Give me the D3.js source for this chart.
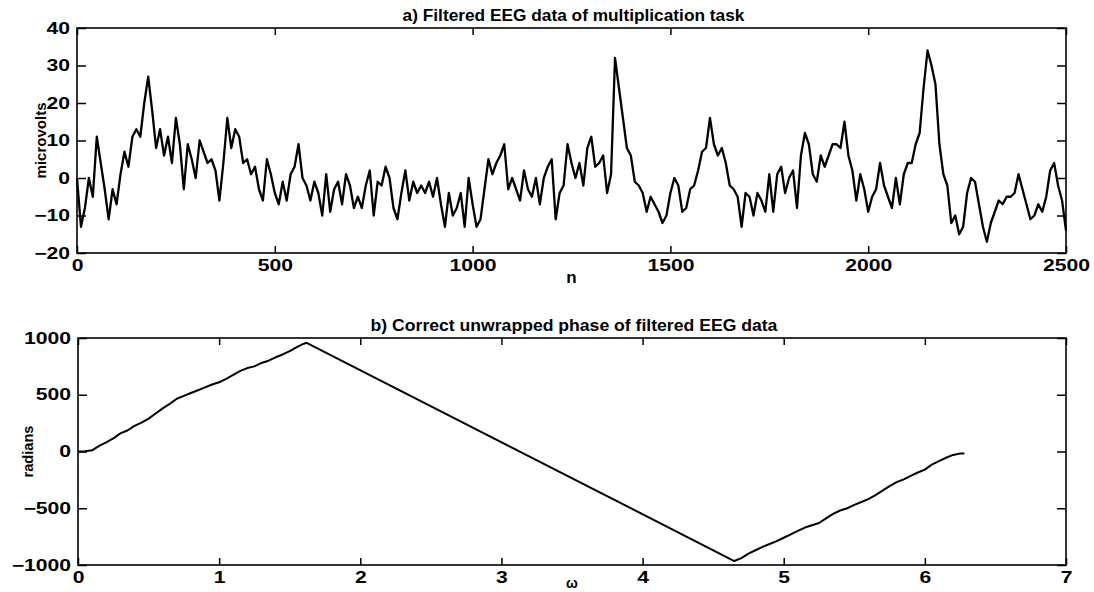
<!DOCTYPE html>
<html>
<head>
<meta charset="utf-8">
<script src="https://cdn.jsdelivr.net/npm/d3@7"></script>
<style>
body { margin: 0; background: white; }
</style>
</head>
<body>
<div id="chart"></div>
<script>
// a) filtered EEG, one value every eegStep samples (read off the picture)
var eegStep = 10;
var eegValues = [
    0, -13, -8, 0, -5, 11, 4, -3, -11, -3,
    -7, 1, 7, 3, 11, 13, 11, 20, 27, 18,
    8, 13, 6, 11, 4, 16, 9, -3, 9, 5,
    0, 10, 7, 4, 5, 2, -6, 4, 16, 8,
    13, 11, 4, 5, 1, 3, -3, -6, 5, 1,
    -4, -7, -1, -6, 1, 3, 9, 0, -2, -6,
    -1, -4, -10, 1,
    -9, -3, -1, -7, 1, -2, -8, -5, -8, -2,
    2, -10, -1, -2, 3, 0, -8, -11, -4, 2,
    -6, -1, -4, -2, -4, -1, -5, 0, -7, -13,
    -4, -10, -8, -4, -13, 0, -7, -13, -11, -3,
    5, 1, 4, 6, 9, -3, 0, -3, -6, 2,
    -3, -5, 0, -7, 0, 3, 5, -11, -4, -2,
    9, 4,
    0, 4, -2, 8, 11, 3, 4, 6, -4, 1,
    32, 24, 16, 8, 6, -1, -2, -4, -9, -5,
    -7, -9, -12, -10, -4, 0, -2, -9, -8, -3,
    -2, 2, 7, 8, 16, 9, 6, 8, 4, -2,
    -3, -5, -13, -4, -5, -10, -4, -6, -9, 1,
    -9, 1, 3, -4, 0, 2, -8, 6, 12, 9,
    1, -1, 6,
    3, 6, 9, 9, 8, 15, 6, 2, -6, 1,
    -3, -9, -5, -3, 4, -2, -5, -8, 0, -7,
    1, 4, 4, 9, 12, 24, 34, 30, 25, 9,
    1, -2, -12, -10, -15, -13, -4, 0, -1, -7,
    -13, -17, -12, -9, -6, -7, -5, -5, -4, 1,
    -3, -7, -11, -10, -7, -9, -5, 2, 4, -2,
    -6, -14
];
var eegTicksX = [0, 500, 1000, 1500, 2000, 2500];
var eegTicksY = [-20, -10, 0, 10, 20, 30, 40];

// b) unwrapped phase
var phaseOmega = [
    0, 0.05, 0.1, 0.15, 0.2, 0.25, 0.3, 0.35, 0.4, 0.45,
    0.5, 0.55, 0.6, 0.65, 0.7, 0.75, 0.8, 0.85, 0.9, 0.95,
    1.0, 1.05, 1.1, 1.15, 1.2, 1.25, 1.3, 1.35, 1.4, 1.45,
    1.5, 1.55, 1.6, 1.62,
    4.65, 4.7, 4.75, 4.8, 4.85, 4.9, 4.95, 5.0, 5.05, 5.1,
    5.15, 5.2, 5.25, 5.3, 5.35, 5.4, 5.45, 5.5, 5.55, 5.6,
    5.65, 5.7, 5.75, 5.8, 5.85, 5.9, 5.95, 6.0, 6.05, 6.1,
    6.15, 6.2, 6.25, 6.28
];
var phaseRadians = [
    0, 3, 10, 50, 80, 115, 160, 185, 225, 255,
    290, 335, 380, 420, 465, 490, 515, 540, 565, 590,
    610, 640, 675, 710, 735, 750, 780, 800, 830, 855,
    885, 920, 950, 958,
    -965, -940, -900, -870, -840, -815, -790, -760, -730, -700,
    -670, -650, -630, -590, -550, -520, -500, -470, -445, -420,
    -385, -345, -305, -270, -245, -215, -185, -160, -115, -85,
    -55, -30, -18, -18
];
var phaseTicksX = [0, 1, 2, 3, 4, 5, 6, 7];
var phaseTicksY = [-1000, -500, 0, 500, 1000];

var svg = d3.select("#chart")
    .append("svg")
    .attr("width", 1094)
    .attr("height", 592);

var font = "'Liberation Sans', Arial, Helvetica, sans-serif";
var digitStretch = 1.32;
var fmt = d3.format("d");

// scanned figure has wide glyphs, so stretch text horizontally
function widen(sel, k) {
    sel.each(function() {
        let w = this.getComputedTextLength();
        d3.select(this)
            .attr("textLength", w * k)
            .attr("lengthAdjust", "spacingAndGlyphs");
    });
}

function drawPanel(p) {
    let x = d3.scaleLinear().domain(p.xDomain).range([p.left, p.right]);
    let y = d3.scaleLinear().domain(p.yDomain).range([p.bottom, p.top]);
    let g = svg.append("g");

    let left = g.append("g")
        .attr("transform", "translate(" + p.left + ",0)")
        .call(d3.axisLeft(y).tickValues(p.yTicks).tickFormat(fmt)
            .tickSize(-9).tickPadding(7).tickSizeOuter(0));
    let bottom = g.append("g")
        .attr("transform", "translate(0," + p.bottom + ")")
        .call(d3.axisBottom(x).tickValues(p.xTicks).tickFormat(fmt)
            .tickSize(-7).tickPadding(7).tickSizeOuter(0));
    g.append("g")
        .attr("transform", "translate(" + p.right + ",0)")
        .call(d3.axisRight(y).tickValues(p.yTicks).tickSize(-9).tickFormat("").tickSizeOuter(0));
    g.append("g")
        .attr("transform", "translate(0," + p.top + ")")
        .call(d3.axisTop(x).tickValues(p.xTicks).tickSize(-7).tickFormat("").tickSizeOuter(0));

    g.selectAll(".domain").remove();
    g.selectAll(".tick line").attr("stroke", "black").attr("stroke-width", 1.5);
    g.selectAll(".tick text")
        .attr("font-family", font)
        .attr("font-weight", "bold")
        .attr("font-size", "16px")
        .attr("fill", "black");
    widen(left.selectAll(".tick text"), digitStretch);
    widen(bottom.selectAll(".tick text"), digitStretch);

    g.append("rect")
        .attr("x", p.left)
        .attr("y", p.top)
        .attr("width", p.right - p.left)
        .attr("height", p.bottom - p.top)
        .attr("fill", "none")
        .attr("stroke", "black")
        .attr("stroke-width", 1.6);

    g.append("path")
        .datum(p.points)
        .attr("fill", "none")
        .attr("stroke", "black")
        .attr("stroke-width", p.lineWidth)
        .attr("stroke-linejoin", "round")
        .attr("d", d3.line()
            .x(d => x(d[0]))
            .y(d => y(d[1])));

    let title = g.append("text")
        .attr("x", (p.left + p.right) / 2 + 2)
        .attr("y", p.top - 7)
        .attr("text-anchor", "middle")
        .attr("font-family", font)
        .attr("font-weight", "bold")
        .attr("font-size", "16px")
        .text(p.title);
    widen(title, p.titleStretch);

    g.append("text")
        .attr("x", (p.left + p.right) / 2)
        .attr("y", p.xLabelY)
        .attr("text-anchor", "middle")
        .attr("font-family", font)
        .attr("font-weight", "bold")
        .attr("font-size", p.xLabelSize)
        .text(p.xLabel);

    g.append("text")
        .attr("transform", "translate(" + p.yLabelX + "," + (p.top + p.bottom) / 2 + ") rotate(-90)")
        .attr("text-anchor", "middle")
        .attr("font-family", font)
        .attr("font-weight", "bold")
        .attr("font-size", "15px")
        .attr("textLength", p.yLabelLength)
        .attr("lengthAdjust", "spacingAndGlyphs")
        .text(p.yLabel);
}

drawPanel({
    left: 77, right: 1066, top: 28, bottom: 253,
    xDomain: [0, 2500], yDomain: [-20, 40],
    xTicks: eegTicksX, yTicks: eegTicksY,
    points: eegValues.map((v, i) => [i * eegStep, v]),
    lineWidth: 2.3,
    title: "a) Filtered EEG data of multiplication task",
    titleStretch: 1.08,
    xLabel: "n", xLabelY: 283, xLabelSize: "17px",
    yLabel: "microvolts", yLabelX: 46, yLabelLength: 76
});

drawPanel({
    left: 78, right: 1066, top: 338, bottom: 565,
    xDomain: [0, 7], yDomain: [-1000, 1000],
    xTicks: phaseTicksX, yTicks: phaseTicksY,
    points: phaseOmega.map((w, i) => [w, phaseRadians[i]]),
    lineWidth: 2,
    title: "b) Correct unwrapped phase of filtered EEG data",
    titleStretch: 1.1,
    xLabel: "ω", xLabelY: 588, xLabelSize: "14px",
    yLabel: "radians", yLabelX: 33, yLabelLength: 52
});
</script>
</body>
</html>
